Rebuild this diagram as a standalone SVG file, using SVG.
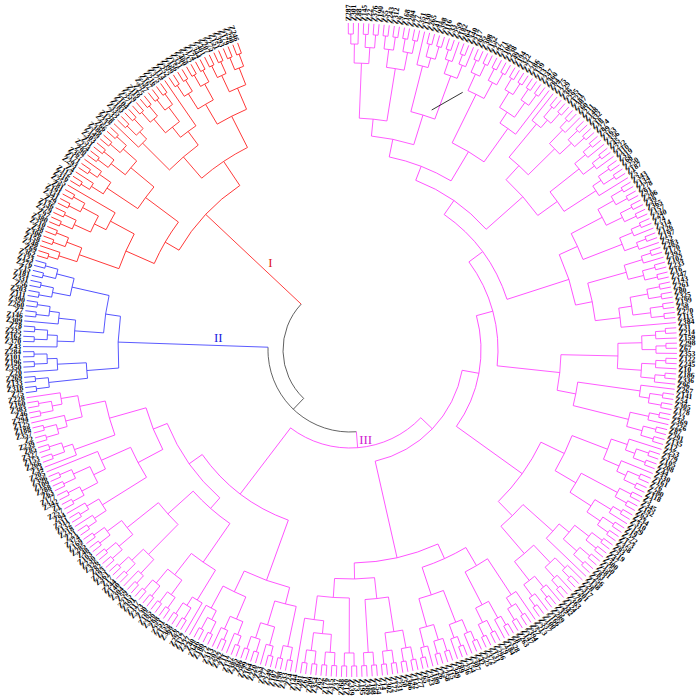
<svg xmlns="http://www.w3.org/2000/svg" width="700" height="699" viewBox="0 0 700 699">
<style>
path,circle{fill:none;stroke-width:.8}
.p{stroke:#ff3cff}.r{stroke:#ff2020}.b{stroke:#3535ff}.k{stroke:#444}
text{font-family:"Liberation Serif",serif}
.lab text{font-size:7.6px;font-weight:bold;dominant-baseline:central;fill:#000;text-rendering:geometricPrecision}
.lab .f text{text-anchor:end}
.cl{font-size:13px;text-anchor:middle}
</style>
<defs>
<g id="t2"><path d="M316 0H327"/><path transform="rotate(.9)" d="M316 0H327"/><circle r="316" pathLength="360" stroke-dasharray=".9 999"/></g>
<g id="t3"><use href="#t2"/><path transform="rotate(.45)" d="M306 0H316"/><path transform="rotate(1.8)" d="M306 0H327"/><circle transform="rotate(.45)" r="306" pathLength="360" stroke-dasharray="1.35 999"/></g>
<g id="t4"><use href="#t2"/><use href="#t2" transform="rotate(1.8)"/><path transform="rotate(.45)" d="M303 0H316"/><path transform="rotate(2.25)" d="M303 0H316"/><circle transform="rotate(.45)" r="303" pathLength="360" stroke-dasharray="1.8 999"/></g>
<g id="t5"><use href="#t4" transform="rotate(.9)"/><path d="M293 0H327"/><path transform="rotate(2.25)" d="M293 0H303"/><circle r="293" pathLength="360" stroke-dasharray="2.25 999"/></g>
<g id="t6"><use href="#t3"/><use href="#t3" transform="rotate(2.7)"/><path transform="rotate(1.125)" d="M292 0H306"/><path transform="rotate(3.825)" d="M292 0H306"/><circle transform="rotate(1.125)" r="292" pathLength="360" stroke-dasharray="2.7 999"/></g>
<g id="t7"><use href="#t3"/><use href="#t4" transform="rotate(2.7)"/><path transform="rotate(1.125)" d="M287 0H306"/><path transform="rotate(4.05)" d="M287 0H303"/><circle transform="rotate(1.125)" r="287" pathLength="360" stroke-dasharray="2.925 999"/></g>
<g id="t8"><use href="#t4"/><use href="#t4" transform="rotate(3.6)"/><path transform="rotate(1.35)" d="M285 0H303"/><path transform="rotate(4.95)" d="M285 0H303"/><circle transform="rotate(1.35)" r="285" pathLength="360" stroke-dasharray="3.6 999"/></g>
<g id="t9"><use href="#t8"/><path transform="rotate(3.15)" d="M272 0H285"/><path transform="rotate(7.2)" d="M272 0H327"/><circle transform="rotate(3.15)" r="272" pathLength="360" stroke-dasharray="4.05 999"/></g>
<g id="t10"><use href="#t5"/><use href="#t5" transform="rotate(4.5)"/><path transform="rotate(1.125)" d="M276 0H293"/><path transform="rotate(5.625)" d="M276 0H293"/><circle transform="rotate(1.125)" r="276" pathLength="360" stroke-dasharray="4.5 999"/></g>
<g id="t12"><use href="#t6"/><use href="#t6" transform="rotate(5.4)"/><path transform="rotate(2.475)" d="M268 0H292"/><path transform="rotate(7.875)" d="M268 0H292"/><circle transform="rotate(2.475)" r="268" pathLength="360" stroke-dasharray="5.4 999"/></g>
</defs>
<rect width="700" height="699" fill="#fff"/>
<g id="connectors" transform="translate(350 350)">
<g id="root" class="k">
<circle transform="rotate(133.742)" r="67" pathLength="360" stroke-dasharray="89.482 999"/>
<path transform="rotate(133.742)" d="M67 0H82"/>
<circle transform="rotate(85.534)" r="82" pathLength="360" stroke-dasharray="96.416 999"/>
</g>
<g id="clade-III" class="p">
<path transform="rotate(85.534)" d="M82 0H98"/>
<circle transform="rotate(43.743)" r="98" pathLength="360" stroke-dasharray="83.582 999"/>
<path transform="rotate(127.325)" d="M98 0H181"/>
<circle transform="rotate(109.923)" r="181" pathLength="360" stroke-dasharray="34.804 999"/>
<path transform="rotate(109.923)" d="M181 0H245"/>
<path transform="rotate(144.727)" d="M181 0H197"/>
<path transform="rotate(43.743)" d="M98 0H114"/>
<circle transform="rotate(10.245)" r="114" pathLength="360" stroke-dasharray="66.996 999"/>
<path transform="rotate(77.241)" d="M114 0H213"/>
<path transform="rotate(10.245)" d="M114 0H131"/>
<circle transform="rotate(-15.197)" r="131" pathLength="360" stroke-dasharray="50.883 999"/>
<path transform="rotate(35.686)" d="M131 0H212"/>
<path transform="rotate(-15.197)" d="M131 0H148"/>
<circle transform="rotate(-36.535)" r="148" pathLength="360" stroke-dasharray="42.676 999"/>
<path transform="rotate(6.141)" d="M148 0H211"/>
<path transform="rotate(-36.535)" d="M148 0H165"/>
<circle transform="rotate(-55.193)" r="165" pathLength="360" stroke-dasharray="37.315 999"/>
<path transform="rotate(-17.878)" d="M165 0H230"/>
<path transform="rotate(-55.193)" d="M165 0H182"/>
<circle transform="rotate(-68.826)" r="182" pathLength="360" stroke-dasharray="27.267 999"/>
<path transform="rotate(-41.559)" d="M182 0H231"/>
<path transform="rotate(-68.826)" d="M182 0H197"/>
<circle transform="rotate(-78.515)" r="197" pathLength="360" stroke-dasharray="19.377 999"/>
<path transform="rotate(-59.138)" d="M197 0H231"/>
<path transform="rotate(-78.515)" d="M197 0H215"/>
<circle transform="rotate(-84.28)" r="215" pathLength="360" stroke-dasharray="11.53 999"/>
<path transform="rotate(-84.28)" d="M215 0H232"/>
<path transform="rotate(-72.75)" d="M215 0H246"/>
<g id="P1"><use href="#t7" transform="rotate(-90.3)"/><use href="#t8" transform="rotate(-84)"/>
<circle transform="rotate(-87.71)" r="232" pathLength="360" stroke-dasharray="6.86 999"/>
<path transform="rotate(-87.71)" d="M232 0H287"/><path transform="rotate(-80.85)" d="M232 0H285"/></g>
<g id="P2"><use href="#t5" transform="rotate(-76.8)"/><use href="#t6" transform="rotate(-72.3)"/>
<circle transform="rotate(-75.675)" r="246" pathLength="360" stroke-dasharray="5.85 999"/>
<path transform="rotate(-75.675)" d="M246 0H293"/><path transform="rotate(-69.825)" d="M246 0H292"/></g>
<g id="P3"><use href="#t8" transform="rotate(-66.9)"/><use href="#t9" transform="rotate(-59.7)"/>
<circle transform="rotate(-63.75)" r="231" pathLength="360" stroke-dasharray="9.225 999"/>
<path transform="rotate(-63.75)" d="M231 0H285"/><path transform="rotate(-54.525)" d="M231 0H272"/></g>
<g id="P4"><use href="#t5" transform="rotate(-51.6)"/><use href="#t7" transform="rotate(-47.1)"/>
<circle transform="rotate(-50.475)" r="250" pathLength="360" stroke-dasharray="5.965 999"/>
<path transform="rotate(-50.475)" d="M250 0H293"/><path transform="rotate(-44.51)" d="M250 0H287"/>
<use href="#t6" transform="rotate(-40.8)"/><use href="#t5" transform="rotate(-31.8) scale(1,-1)"/>
<circle transform="rotate(-38.325)" r="255" pathLength="360" stroke-dasharray="5.4 999"/>
<path transform="rotate(-38.325)" d="M255 0H292"/><path transform="rotate(-32.925)" d="M255 0H293"/>
<circle transform="rotate(-47.4925)" r="231" pathLength="360" stroke-dasharray="11.8675 999"/>
<path transform="rotate(-47.4925)" d="M231 0H250"/><path transform="rotate(-35.625)" d="M231 0H255"/></g>
<g id="P5"><use href="#t8" transform="rotate(-30.9)"/><use href="#t6" transform="rotate(-23.7)"/>
<circle transform="rotate(-27.75)" r="250" pathLength="360" stroke-dasharray="6.525 999"/>
<path transform="rotate(-27.75)" d="M250 0H285"/><path transform="rotate(-21.225)" d="M250 0H292"/>
<use href="#t7" transform="rotate(-18.3)"/><use href="#t9" transform="rotate(-12)"/>
<circle transform="rotate(-15.71)" r="247" pathLength="360" stroke-dasharray="8.885 999"/>
<path transform="rotate(-15.71)" d="M247 0H287"/><path transform="rotate(-6.825)" d="M247 0H272"/>
<circle transform="rotate(-24.4875)" r="230" pathLength="360" stroke-dasharray="13.22 999"/>
<path transform="rotate(-24.4875)" d="M230 0H250"/><path transform="rotate(-11.2675)" d="M230 0H247"/></g>
<g id="P6"><use href="#t12" transform="rotate(-3.9)"/>
<use href="#t5" transform="rotate(6.9)"/><use href="#t7" transform="rotate(11.4)"/>
<circle transform="rotate(8.025)" r="230" pathLength="360" stroke-dasharray="5.965 999"/>
<path transform="rotate(8.025)" d="M230 0H293"/><path transform="rotate(13.99)" d="M230 0H287"/>
<circle transform="rotate(1.275)" r="211" pathLength="360" stroke-dasharray="9.7325 999"/>
<path transform="rotate(1.275)" d="M211 0H268"/><path transform="rotate(11.0075)" d="M211 0H230"/></g>
<g id="P7"><use href="#t10" transform="rotate(17.7)"/>
<use href="#t4" transform="rotate(26.7)"/><use href="#t7" transform="rotate(30.3)"/>
<circle transform="rotate(28.05)" r="262" pathLength="360" stroke-dasharray="4.84 999"/>
<path transform="rotate(28.05)" d="M262 0H303"/><path transform="rotate(32.89)" d="M262 0H287"/>
<circle transform="rotate(21.075)" r="238" pathLength="360" stroke-dasharray="9.395 999"/>
<path transform="rotate(21.075)" d="M238 0H276"/><path transform="rotate(30.47)" d="M238 0H262"/>
<use href="#t9" transform="rotate(36.6)"/><use href="#t12" transform="rotate(54.6) scale(1,-1)"/>
<circle transform="rotate(41.775)" r="232" pathLength="360" stroke-dasharray="7.65 999"/>
<path transform="rotate(41.775)" d="M232 0H272"/><path transform="rotate(49.425)" d="M232 0H268"/>
<circle transform="rotate(25.7725)" r="212" pathLength="360" stroke-dasharray="19.8275 999"/>
<path transform="rotate(25.7725)" d="M212 0H238"/><path transform="rotate(45.6)" d="M212 0H232"/></g>
<g id="P8"><use href="#t5" transform="rotate(55.5)"/><use href="#t7" transform="rotate(60)"/>
<circle transform="rotate(56.625)" r="250" pathLength="360" stroke-dasharray="5.965 999"/>
<path transform="rotate(56.625)" d="M250 0H293"/><path transform="rotate(62.59)" d="M250 0H287"/>
<use href="#t6" transform="rotate(66.3)"/><use href="#t7" transform="rotate(77.1) scale(1,-1)"/>
<circle transform="rotate(68.775)" r="258" pathLength="360" stroke-dasharray="5.735 999"/>
<path transform="rotate(68.775)" d="M258 0H292"/><path transform="rotate(74.51)" d="M258 0H287"/>
<circle transform="rotate(59.6075)" r="229" pathLength="360" stroke-dasharray="12.035 999"/>
<path transform="rotate(59.6075)" d="M229 0H250"/><path transform="rotate(71.6425)" d="M229 0H258"/>
<use href="#t8" transform="rotate(78)"/><use href="#t4" transform="rotate(85.2)"/>
<circle transform="rotate(81.15)" r="250" pathLength="360" stroke-dasharray="5.4 999"/>
<path transform="rotate(81.15)" d="M250 0H285"/><path transform="rotate(86.55)" d="M250 0H303"/>
<use href="#t4" transform="rotate(88.8)"/><use href="#t9" transform="rotate(92.4)"/>
<circle transform="rotate(90.15)" r="248" pathLength="360" stroke-dasharray="7.425 999"/>
<path transform="rotate(90.15)" d="M248 0H303"/><path transform="rotate(97.575)" d="M248 0H272"/>
<circle transform="rotate(83.85)" r="229" pathLength="360" stroke-dasharray="10.0125 999"/>
<path transform="rotate(83.85)" d="M229 0H250"/><path transform="rotate(93.8625)" d="M229 0H248"/>
<circle transform="rotate(65.625)" r="213" pathLength="360" stroke-dasharray="23.2313 999"/>
<path transform="rotate(65.625)" d="M213 0H229"/><path transform="rotate(88.8563)" d="M213 0H229"/></g>
<g id="P9"><use href="#t4" transform="rotate(100.5)"/><use href="#t7" transform="rotate(104.1)"/>
<circle transform="rotate(101.85)" r="262" pathLength="360" stroke-dasharray="4.84 999"/>
<path transform="rotate(101.85)" d="M262 0H303"/><path transform="rotate(106.69)" d="M262 0H287"/>
<use href="#t6" transform="rotate(110.4)"/><use href="#t5" transform="rotate(119.4) scale(1,-1)"/>
<circle transform="rotate(112.875)" r="268" pathLength="360" stroke-dasharray="5.4 999"/>
<path transform="rotate(112.875)" d="M268 0H292"/><path transform="rotate(118.275)" d="M268 0H293"/>
<circle transform="rotate(104.27)" r="245" pathLength="360" stroke-dasharray="11.305 999"/>
<path transform="rotate(104.27)" d="M245 0H262"/><path transform="rotate(115.575)" d="M245 0H268"/></g>
<g id="P10"><use href="#t5" transform="rotate(120.3)"/><use href="#t8" transform="rotate(124.8)"/>
<circle transform="rotate(121.425)" r="258" pathLength="360" stroke-dasharray="6.525 999"/>
<path transform="rotate(121.425)" d="M258 0H293"/><path transform="rotate(127.95)" d="M258 0H285"/>
<use href="#t7" transform="rotate(132)"/><use href="#t8" transform="rotate(138.3)"/>
<circle transform="rotate(134.59)" r="245" pathLength="360" stroke-dasharray="6.86 999"/>
<path transform="rotate(134.59)" d="M245 0H287"/><path transform="rotate(141.45)" d="M245 0H285"/>
<circle transform="rotate(124.6875)" r="211" pathLength="360" stroke-dasharray="13.3325 999"/>
<path transform="rotate(124.6875)" d="M211 0H258"/><path transform="rotate(138.02)" d="M211 0H245"/>
<use href="#t6" transform="rotate(145.5)"/><use href="#t9" transform="rotate(150.9)"/>
<circle transform="rotate(147.975)" r="240" pathLength="360" stroke-dasharray="8.1 999"/>
<path transform="rotate(147.975)" d="M240 0H292"/><path transform="rotate(156.075)" d="M240 0H272"/>
<use href="#t5" transform="rotate(159)"/><use href="#t10" transform="rotate(171.6) scale(1,-1)"/>
<circle transform="rotate(160.125)" r="250" pathLength="360" stroke-dasharray="8.1 999"/>
<path transform="rotate(160.125)" d="M250 0H293"/><path transform="rotate(168.225)" d="M250 0H276"/>
<circle transform="rotate(152.025)" r="212" pathLength="360" stroke-dasharray="12.15 999"/>
<path transform="rotate(152.025)" d="M212 0H240"/><path transform="rotate(164.175)" d="M212 0H250"/>
<circle transform="rotate(131.354)" r="197" pathLength="360" stroke-dasharray="26.746 999"/>
<path transform="rotate(131.354)" d="M197 0H211"/><path transform="rotate(158.1)" d="M197 0H212"/></g>
</g>
<g id="clade-II" class="b">
<use href="#t4" transform="rotate(172.5)"/><use href="#t5" transform="rotate(176.1)"/>
<circle transform="rotate(173.85)" r="264" pathLength="360" stroke-dasharray="3.375 999"/>
<path transform="rotate(173.85)" d="M264 0H303"/><path transform="rotate(177.225)" d="M264 0H293"/>
<use href="#t10" transform="rotate(180.6)"/><use href="#t8" transform="rotate(189.6)"/>
<circle transform="rotate(183.975)" r="247" pathLength="360" stroke-dasharray="8.775 999"/>
<path transform="rotate(183.975)" d="M247 0H276"/><path transform="rotate(192.75)" d="M247 0H285"/>
<circle transform="rotate(175.5375)" r="232" pathLength="360" stroke-dasharray="12.825 999"/>
<path transform="rotate(175.5375)" d="M232 0H264"/><path transform="rotate(188.3625)" d="M232 0H247"/>
<path transform="rotate(181.95)" d="M82 0H232"/>
</g>
<g id="clade-I" class="r">
<use href="#t7" transform="rotate(196.8)"/><use href="#t9" transform="rotate(203.1)"/>
<circle transform="rotate(199.39)" r="245" pathLength="360" stroke-dasharray="8.885 999"/>
<path transform="rotate(199.39)" d="M245 0H287"/><path transform="rotate(208.275)" d="M245 0H272"/>
<use href="#t6" transform="rotate(211.2)"/><use href="#t8" transform="rotate(216.6)"/>
<circle transform="rotate(213.675)" r="255" pathLength="360" stroke-dasharray="6.075 999"/>
<path transform="rotate(213.675)" d="M255 0H292"/><path transform="rotate(219.75)" d="M255 0H285"/>
<circle transform="rotate(203.8325)" r="214" pathLength="360" stroke-dasharray="12.88 999"/>
<path transform="rotate(203.8325)" d="M214 0H245"/><path transform="rotate(216.7125)" d="M214 0H255"/>
<use href="#t5" transform="rotate(223.8)"/><use href="#t9" transform="rotate(228.3)"/>
<circle transform="rotate(224.925)" r="255" pathLength="360" stroke-dasharray="8.55 999"/>
<path transform="rotate(224.925)" d="M255 0H293"/><path transform="rotate(233.475)" d="M255 0H272"/>
<use href="#t8" transform="rotate(236.4)"/><use href="#t8" transform="rotate(243.6)"/>
<circle transform="rotate(239.55)" r="262" pathLength="360" stroke-dasharray="7.2 999"/>
<path transform="rotate(239.55)" d="M262 0H285"/><path transform="rotate(246.75)" d="M262 0H285"/>
<circle transform="rotate(229.2)" r="227" pathLength="360" stroke-dasharray="13.95 999"/>
<path transform="rotate(229.2)" d="M227 0H255"/><path transform="rotate(243.15)" d="M227 0H262"/>
<circle transform="rotate(210.2725)" r="198" pathLength="360" stroke-dasharray="25.9025 999"/>
<path transform="rotate(210.2725)" d="M198 0H214"/><path transform="rotate(236.175)" d="M198 0H227"/>
<path transform="rotate(223.224)" d="M67 0H198"/>
</g>
</g>
<path id="marker" d="M431.7 110L462.7 92.3" stroke="#000" stroke-width="1.4"/>
<g id="clade-labels" class="cl">
<text x="270.5" y="267" fill="#e02020">I</text>
<text x="218.3" y="341.8" fill="#2020e0">II</text>
<text x="365.7" y="443.5" fill="#d020d0">III</text>
</g>
<g id="labels" class="lab" transform="translate(350 350)">
<g>
<text transform="rotate(-90.3)" x="329">Z287</text><text transform="rotate(-89.4)" x="329">Z301</text><text transform="rotate(-88.5)" x="329">Z88</text><text transform="rotate(-87.6)" x="329">Z145</text><text transform="rotate(-86.7)" x="329">Z22</text><text transform="rotate(-85.8)" x="329">Z376</text><text transform="rotate(-84.9)" x="329">Z190</text><text transform="rotate(-84)" x="329">Z55</text><text transform="rotate(-83.1)" x="329">Z243</text><text transform="rotate(-82.2)" x="329">Z312</text>
<text transform="rotate(-81.3)" x="329">Z9</text><text transform="rotate(-80.4)" x="329">Z168</text><text transform="rotate(-79.5)" x="329">Z204</text><text transform="rotate(-78.6)" x="329">Z77</text><text transform="rotate(-77.7)" x="329">Z351</text><text transform="rotate(-76.8)" x="329">Z130</text><text transform="rotate(-75.9)" x="329">Z265</text><text transform="rotate(-75)" x="329">Z41</text><text transform="rotate(-74.1)" x="329">Z398</text><text transform="rotate(-73.2)" x="329">Z116</text>
<text transform="rotate(-72.3)" x="329">Z33</text><text transform="rotate(-71.4)" x="329">Z259</text><text transform="rotate(-70.5)" x="329">Z182</text><text transform="rotate(-69.6)" x="329">Z64</text><text transform="rotate(-68.7)" x="329">Z340</text><text transform="rotate(-67.8)" x="329">Z217</text><text transform="rotate(-66.9)" x="329">Z95</text><text transform="rotate(-66)" x="329">Z308</text><text transform="rotate(-65.1)" x="329">Z152</text><text transform="rotate(-64.2)" x="329">Z27</text>
<text transform="rotate(-63.3)" x="329">Z371</text><text transform="rotate(-62.4)" x="329">Z106</text><text transform="rotate(-61.5)" x="329">Z238</text><text transform="rotate(-60.6)" x="329">Z49</text><text transform="rotate(-59.7)" x="329">Z194</text><text transform="rotate(-58.8)" x="329">Z322</text><text transform="rotate(-57.9)" x="329">Z71</text><text transform="rotate(-57)" x="329">Z286</text><text transform="rotate(-56.1)" x="329">Z139</text><text transform="rotate(-55.2)" x="329">Z13</text>
<text transform="rotate(-54.3)" x="329">Z247</text><text transform="rotate(-53.4)" x="329">Z360</text><text transform="rotate(-52.5)" x="329">Z84</text><text transform="rotate(-51.6)" x="329">Z175</text><text transform="rotate(-50.7)" x="329">Z229</text><text transform="rotate(-49.8)" x="329">Z36</text><text transform="rotate(-48.9)" x="329">Z295</text><text transform="rotate(-48)" x="329">Z121</text><text transform="rotate(-47.1)" x="329">Z387</text><text transform="rotate(-46.2)" x="329">Z60</text>
<text transform="rotate(-45.3)" x="329">Z211</text><text transform="rotate(-44.4)" x="329">Z148</text><text transform="rotate(-43.5)" x="329">Z332</text><text transform="rotate(-42.6)" x="329">Z18</text><text transform="rotate(-41.7)" x="329">Z274</text><text transform="rotate(-40.8)" x="329">Z99</text><text transform="rotate(-39.9)" x="329">Z163</text><text transform="rotate(-39)" x="329">Z356</text><text transform="rotate(-38.1)" x="329">Z45</text><text transform="rotate(-37.2)" x="329">Z222</text>
<text transform="rotate(-36.3)" x="329">Z110</text><text transform="rotate(-35.4)" x="329">Z319</text><text transform="rotate(-34.5)" x="329">Z68</text><text transform="rotate(-33.6)" x="329">Z250</text><text transform="rotate(-32.7)" x="329">Z187</text><text transform="rotate(-31.8)" x="329">Z5</text><text transform="rotate(-30.9)" x="329">Z343</text><text transform="rotate(-30)" x="329">Z134</text><text transform="rotate(-29.1)" x="329">Z278</text><text transform="rotate(-28.2)" x="329">Z91</text>
<text transform="rotate(-27.3)" x="329">Z206</text><text transform="rotate(-26.4)" x="329">Z39</text><text transform="rotate(-25.5)" x="329">Z365</text><text transform="rotate(-24.6)" x="329">Z157</text><text transform="rotate(-23.7)" x="329">Z240</text><text transform="rotate(-22.8)" x="329">Z74</text><text transform="rotate(-21.9)" x="329">Z314</text><text transform="rotate(-21)" x="329">Z126</text><text transform="rotate(-20.1)" x="329">Z197</text><text transform="rotate(-19.2)" x="329">Z52</text>
<text transform="rotate(-18.3)" x="329">Z283</text><text transform="rotate(-17.4)" x="329">Z170</text><text transform="rotate(-16.5)" x="329">Z392</text><text transform="rotate(-15.6)" x="329">Z102</text><text transform="rotate(-14.7)" x="329">Z233</text><text transform="rotate(-13.8)" x="329">Z16</text><text transform="rotate(-12.9)" x="329">Z347</text><text transform="rotate(-12)" x="329">Z143</text><text transform="rotate(-11.1)" x="329">Z261</text><text transform="rotate(-10.2)" x="329">Z80</text>
<text transform="rotate(-9.3)" x="329">Z325</text><text transform="rotate(-8.4)" x="329">Z199</text><text transform="rotate(-7.5)" x="329">Z58</text><text transform="rotate(-6.6)" x="329">Z270</text><text transform="rotate(-5.7)" x="329">Z113</text><text transform="rotate(-4.8)" x="329">Z384</text><text transform="rotate(-3.9)" x="329">Z31</text><text transform="rotate(-3)" x="329">Z214</text><text transform="rotate(-2.1)" x="329">Z159</text><text transform="rotate(-1.2)" x="329">Z298</text>
<text transform="rotate(-.3)" x="329">Z67</text><text transform="rotate(.6)" x="329">Z353</text><text transform="rotate(1.5)" x="329">Z122</text><text transform="rotate(2.4)" x="329">Z245</text><text transform="rotate(3.3)" x="329">Z10</text><text transform="rotate(4.2)" x="329">Z186</text><text transform="rotate(5.1)" x="329">Z336</text><text transform="rotate(6)" x="329">Z96</text><text transform="rotate(6.9)" x="329">Z267</text><text transform="rotate(7.8)" x="329">Z141</text>
<text transform="rotate(8.7)" x="329">Z54</text><text transform="rotate(9.6)" x="329">Z305</text><text transform="rotate(10.5)" x="329">Z178</text><text transform="rotate(11.4)" x="329">Z23</text><text transform="rotate(12.3)" x="329">Z369</text><text transform="rotate(13.2)" x="329">Z226</text><text transform="rotate(14.1)" x="329">Z87</text><text transform="rotate(15)" x="329">Z291</text><text transform="rotate(15.9)" x="329">Z135</text><text transform="rotate(16.8)" x="329">Z12</text>
<text transform="rotate(17.7)" x="329">Z253</text><text transform="rotate(18.6)" x="329">Z379</text><text transform="rotate(19.5)" x="329">Z105</text><text transform="rotate(20.4)" x="329">Z208</text><text transform="rotate(21.3)" x="329">Z44</text><text transform="rotate(22.2)" x="329">Z330</text><text transform="rotate(23.1)" x="329">Z161</text><text transform="rotate(24)" x="329">Z76</text><text transform="rotate(24.9)" x="329">Z280</text><text transform="rotate(25.8)" x="329">Z118</text>
<text transform="rotate(26.7)" x="329">Z3</text><text transform="rotate(27.6)" x="329">Z345</text><text transform="rotate(28.5)" x="329">Z192</text><text transform="rotate(29.4)" x="329">Z62</text><text transform="rotate(30.3)" x="329">Z234</text><text transform="rotate(31.2)" x="329">Z310</text><text transform="rotate(32.1)" x="329">Z129</text><text transform="rotate(33)" x="329">Z19</text><text transform="rotate(33.9)" x="329">Z272</text><text transform="rotate(34.8)" x="329">Z173</text>
<text transform="rotate(35.7)" x="329">Z358</text><text transform="rotate(36.6)" x="329">Z93</text><text transform="rotate(37.5)" x="329">Z219</text><text transform="rotate(38.4)" x="329">Z47</text><text transform="rotate(39.3)" x="329">Z300</text><text transform="rotate(40.2)" x="329">Z150</text><text transform="rotate(41.1)" x="329">Z381</text><text transform="rotate(42)" x="329">Z83</text><text transform="rotate(42.9)" x="329">Z256</text><text transform="rotate(43.8)" x="329">Z138</text>
<text transform="rotate(44.7)" x="329">Z28</text><text transform="rotate(45.6)" x="329">Z317</text><text transform="rotate(46.5)" x="329">Z201</text><text transform="rotate(47.4)" x="329">Z70</text><text transform="rotate(48.3)" x="329">Z363</text><text transform="rotate(49.2)" x="329">Z124</text><text transform="rotate(50.1)" x="329">Z242</text><text transform="rotate(51)" x="329">Z35</text><text transform="rotate(51.9)" x="329">Z289</text><text transform="rotate(52.8)" x="329">Z166</text>
<text transform="rotate(53.7)" x="329">Z100</text><text transform="rotate(54.6)" x="329">Z337</text><text transform="rotate(55.5)" x="329">Z213</text><text transform="rotate(56.4)" x="329">Z57</text><text transform="rotate(57.3)" x="329">Z394</text><text transform="rotate(58.2)" x="329">Z147</text><text transform="rotate(59.1)" x="329">Z263</text><text transform="rotate(60)" x="329">Z8</text><text transform="rotate(60.9)" x="329">Z328</text><text transform="rotate(61.8)" x="329">Z184</text>
<text transform="rotate(62.7)" x="329">Z79</text><text transform="rotate(63.6)" x="329">Z296</text><text transform="rotate(64.5)" x="329">Z131</text><text transform="rotate(65.4)" x="329">Z372</text><text transform="rotate(66.3)" x="329">Z225</text><text transform="rotate(67.2)" x="329">Z42</text><text transform="rotate(68.1)" x="329">Z307</text><text transform="rotate(69)" x="329">Z154</text><text transform="rotate(69.9)" x="329">Z236</text><text transform="rotate(70.8)" x="329">Z89</text>
<text transform="rotate(71.7)" x="329">Z349</text><text transform="rotate(72.6)" x="329">Z115</text><text transform="rotate(73.5)" x="329">Z258</text><text transform="rotate(74.4)" x="329">Z26</text><text transform="rotate(75.3)" x="329">Z189</text><text transform="rotate(76.2)" x="329">Z323</text><text transform="rotate(77.1)" x="329">Z65</text><text transform="rotate(78)" x="329">Z277</text><text transform="rotate(78.9)" x="329">Z142</text><text transform="rotate(79.8)" x="329">Z366</text>
<text transform="rotate(80.7)" x="329">Z50</text><text transform="rotate(81.6)" x="329">Z231</text><text transform="rotate(82.5)" x="329">Z172</text><text transform="rotate(83.4)" x="329">Z302</text><text transform="rotate(84.3)" x="329">Z14</text><text transform="rotate(85.2)" x="329">Z254</text><text transform="rotate(86.1)" x="329">Z108</text><text transform="rotate(87)" x="329">Z389</text><text transform="rotate(87.9)" x="329">Z195</text><text transform="rotate(88.8)" x="329">Z73</text>
<text transform="rotate(89.7)" x="329">Z339</text>
</g>
<g class="f">
<text transform="rotate(-89.4)" x="-329">Z120</text><text transform="rotate(-88.5)" x="-329">Z268</text><text transform="rotate(-87.6)" x="-329">Z37</text><text transform="rotate(-86.7)" x="-329">Z315</text><text transform="rotate(-85.8)" x="-329">Z176</text><text transform="rotate(-84.9)" x="-329">Z92</text><text transform="rotate(-84)" x="-329">Z354</text><text transform="rotate(-83.1)" x="-329">Z209</text><text transform="rotate(-82.2)" x="-329">Z61</text>
<text transform="rotate(-81.3)" x="-329">Z281</text><text transform="rotate(-80.4)" x="-329">Z144</text><text transform="rotate(-79.5)" x="-329">Z24</text><text transform="rotate(-78.6)" x="-329">Z333</text><text transform="rotate(-77.7)" x="-329">Z198</text><text transform="rotate(-76.8)" x="-329">Z107</text><text transform="rotate(-75.9)" x="-329">Z249</text><text transform="rotate(-75)" x="-329">Z377</text><text transform="rotate(-74.1)" x="-329">Z53</text><text transform="rotate(-73.2)" x="-329">Z220</text>
<text transform="rotate(-72.3)" x="-329">Z164</text><text transform="rotate(-71.4)" x="-329">Z299</text><text transform="rotate(-70.5)" x="-329">Z86</text><text transform="rotate(-69.6)" x="-329">Z385</text><text transform="rotate(-68.7)" x="-329">Z137</text><text transform="rotate(-67.8)" x="-329">Z11</text><text transform="rotate(-66.9)" x="-329">Z262</text><text transform="rotate(-66)" x="-329">Z202</text><text transform="rotate(-65.1)" x="-329">Z313</text><text transform="rotate(-64.2)" x="-329">Z72</text>
<text transform="rotate(-63.3)" x="-329">Z180</text><text transform="rotate(-62.4)" x="-329">Z346</text><text transform="rotate(-61.5)" x="-329">Z40</text><text transform="rotate(-60.6)" x="-329">Z227</text><text transform="rotate(-59.7)" x="-329">Z127</text><text transform="rotate(-58.8)" x="-329">Z292</text><text transform="rotate(-57.9)" x="-329">Z6</text><text transform="rotate(-57)" x="-329">Z368</text><text transform="rotate(-56.1)" x="-329">Z155</text><text transform="rotate(-55.2)" x="-329">Z251</text>
<text transform="rotate(-54.3)" x="-329">Z98</text><text transform="rotate(-53.4)" x="-329">Z320</text><text transform="rotate(-52.5)" x="-329">Z185</text><text transform="rotate(-51.6)" x="-329">Z30</text><text transform="rotate(-50.7)" x="-329">Z273</text><text transform="rotate(-49.8)" x="-329">Z117</text><text transform="rotate(-48.9)" x="-329">Z391</text><text transform="rotate(-48)" x="-329">Z215</text><text transform="rotate(-47.1)" x="-329">Z59</text><text transform="rotate(-46.2)" x="-329">Z304</text>
<text transform="rotate(-45.3)" x="-329">Z140</text><text transform="rotate(-44.4)" x="-329">Z244</text><text transform="rotate(-43.5)" x="-329">Z17</text><text transform="rotate(-42.6)" x="-329">Z361</text><text transform="rotate(-41.7)" x="-329">Z193</text><text transform="rotate(-40.8)" x="-329">Z82</text><text transform="rotate(-39.9)" x="-329">Z326</text><text transform="rotate(-39)" x="-329">Z230</text><text transform="rotate(-38.1)" x="-329">Z103</text><text transform="rotate(-37.2)" x="-329">Z48</text>
<text transform="rotate(-36.3)" x="-329">Z285</text><text transform="rotate(-35.4)" x="-329">Z169</text><text transform="rotate(-34.5)" x="-329">Z374</text><text transform="rotate(-33.6)" x="-329">Z21</text><text transform="rotate(-32.7)" x="-329">Z218</text><text transform="rotate(-31.8)" x="-329">Z132</text><text transform="rotate(-30.9)" x="-329">Z311</text><text transform="rotate(-30)" x="-329">Z94</text><text transform="rotate(-29.1)" x="-329">Z257</text><text transform="rotate(-28.2)" x="-329">Z1</text>
<text transform="rotate(-27.3)" x="-329">Z342</text><text transform="rotate(-26.4)" x="-329">Z177</text><text transform="rotate(-25.5)" x="-329">Z63</text><text transform="rotate(-24.6)" x="-329">Z288</text><text transform="rotate(-23.7)" x="-329">Z109</text><text transform="rotate(-22.8)" x="-329">Z396</text><text transform="rotate(-21.9)" x="-329">Z205</text><text transform="rotate(-21)" x="-329">Z34</text><text transform="rotate(-20.1)" x="-329">Z266</text><text transform="rotate(-19.2)" x="-329">Z153</text>
<text transform="rotate(-18.3)" x="-329">Z327</text><text transform="rotate(-17.4)" x="-329">Z85</text><text transform="rotate(-16.5)" x="-329">Z239</text><text transform="rotate(-15.6)" x="-329">Z2</text><text transform="rotate(-14.7)" x="-329">Z357</text><text transform="rotate(-13.8)" x="-329">Z188</text><text transform="rotate(-12.9)" x="-329">Z125</text><text transform="rotate(-12)" x="-329">Z294</text><text transform="rotate(-11.1)" x="-329">Z46</text><text transform="rotate(-10.2)" x="-329">Z383</text>
<text transform="rotate(-9.3)" x="-329">Z160</text><text transform="rotate(-8.4)" x="-329">Z228</text><text transform="rotate(-7.5)" x="-329">Z75</text><text transform="rotate(-6.6)" x="-329">Z318</text><text transform="rotate(-5.7)" x="-329">Z133</text><text transform="rotate(-4.8)" x="-329">Z269</text><text transform="rotate(-3.9)" x="-329">Z20</text><text transform="rotate(-3)" x="-329">Z350</text><text transform="rotate(-2.1)" x="-329">Z196</text><text transform="rotate(-1.2)" x="-329">Z101</text>
<text transform="rotate(-.3)" x="-329">Z284</text><text transform="rotate(.6)" x="-329">Z43</text><text transform="rotate(1.5)" x="-329">Z370</text><text transform="rotate(2.4)" x="-329">Z162</text><text transform="rotate(3.3)" x="-329">Z235</text><text transform="rotate(4.2)" x="-329">Z78</text><text transform="rotate(5.1)" x="-329">Z309</text><text transform="rotate(6)" x="-329">Z146</text><text transform="rotate(6.9)" x="-329">Z7</text><text transform="rotate(7.8)" x="-329">Z260</text>
<text transform="rotate(8.7)" x="-329">Z390</text><text transform="rotate(9.6)" x="-329">Z111</text><text transform="rotate(10.5)" x="-329">Z203</text><text transform="rotate(11.4)" x="-329">Z56</text><text transform="rotate(12.3)" x="-329">Z331</text><text transform="rotate(13.2)" x="-329">Z181</text><text transform="rotate(14.1)" x="-329">Z15</text><text transform="rotate(15)" x="-329">Z276</text><text transform="rotate(15.9)" x="-329">Z123</text><text transform="rotate(16.8)" x="-329">Z362</text>
<text transform="rotate(17.7)" x="-329">Z69</text><text transform="rotate(18.6)" x="-329">Z248</text><text transform="rotate(19.5)" x="-329">Z158</text><text transform="rotate(20.4)" x="-329">Z306</text><text transform="rotate(21.3)" x="-329">Z38</text><text transform="rotate(22.2)" x="-329">Z210</text><text transform="rotate(23.1)" x="-329">Z380</text><text transform="rotate(24)" x="-329">Z97</text><text transform="rotate(24.9)" x="-329">Z279</text><text transform="rotate(25.8)" x="-329">Z136</text>
<text transform="rotate(26.7)" x="-329">Z29</text><text transform="rotate(27.6)" x="-329">Z341</text><text transform="rotate(28.5)" x="-329">Z191</text><text transform="rotate(29.4)" x="-329">Z81</text><text transform="rotate(30.3)" x="-329">Z255</text><text transform="rotate(31.2)" x="-329">Z316</text><text transform="rotate(32.1)" x="-329">Z112</text><text transform="rotate(33)" x="-329">Z4</text><text transform="rotate(33.9)" x="-329">Z293</text><text transform="rotate(34.8)" x="-329">Z171</text>
<text transform="rotate(35.7)" x="-329">Z367</text><text transform="rotate(36.6)" x="-329">Z90</text><text transform="rotate(37.5)" x="-329">Z224</text><text transform="rotate(38.4)" x="-329">Z51</text><text transform="rotate(39.3)" x="-329">Z303</text><text transform="rotate(40.2)" x="-329">Z149</text><text transform="rotate(41.1)" x="-329">Z386</text><text transform="rotate(42)" x="-329">Z66</text><text transform="rotate(42.9)" x="-329">Z237</text><text transform="rotate(43.8)" x="-329">Z128</text>
<text transform="rotate(44.7)" x="-329">Z32</text><text transform="rotate(45.6)" x="-329">Z335</text><text transform="rotate(46.5)" x="-329">Z183</text><text transform="rotate(47.4)" x="-329">Z104</text><text transform="rotate(48.3)" x="-329">Z271</text><text transform="rotate(49.2)" x="-329">Z359</text><text transform="rotate(50.1)" x="-329">Z119</text><text transform="rotate(51)" x="-329">Z25</text><text transform="rotate(51.9)" x="-329">Z297</text><text transform="rotate(52.8)" x="-329">Z167</text>
<text transform="rotate(53.7)" x="-329">Z216</text><text transform="rotate(54.6)" x="-329">Z375</text><text transform="rotate(55.5)" x="-329">Z114</text><text transform="rotate(56.4)" x="-329">Z252</text><text transform="rotate(57.3)" x="-329">Z399</text><text transform="rotate(58.2)" x="-329">Z156</text><text transform="rotate(59.1)" x="-329">Z321</text><text transform="rotate(60)" x="-329">Z400</text><text transform="rotate(60.9)" x="-329">Z232</text><text transform="rotate(61.8)" x="-329">Z174</text>
<text transform="rotate(62.7)" x="-329">Z344</text><text transform="rotate(63.6)" x="-329">Z401</text><text transform="rotate(64.5)" x="-329">Z207</text><text transform="rotate(65.4)" x="-329">Z275</text><text transform="rotate(66.3)" x="-329">Z151</text><text transform="rotate(67.2)" x="-329">Z393</text><text transform="rotate(68.1)" x="-329">Z179</text><text transform="rotate(69)" x="-329">Z290</text><text transform="rotate(69.9)" x="-329">Z246</text>
</g>
</g>
</svg>
